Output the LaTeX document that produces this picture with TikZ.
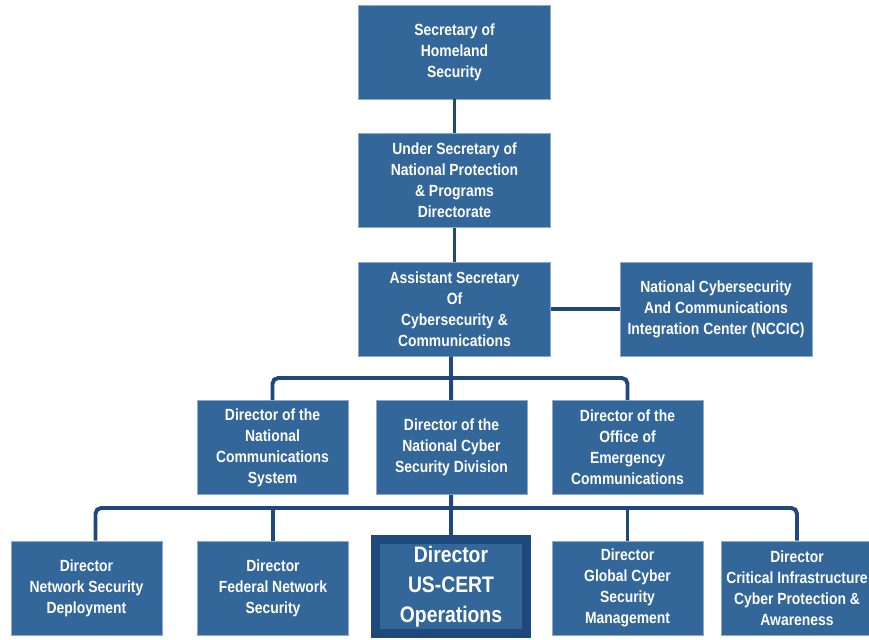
\documentclass[tikz,border=0pt]{standalone}
\usepackage{fontspec}
\setmainfont{Liberation Sans}[FakeStretch=0.86]
\usetikzlibrary{calc,positioning}
\definecolor{boxBlue}{HTML}{336699}
\definecolor{lineNavy}{HTML}{1F497D}
\definecolor{boxEdge}{HTML}{8AAAD0}

\tikzset{
  orgbox/.style={rectangle,fill=boxBlue,draw=boxEdge,line width=.4pt,text=white,
    font=\bfseries\fontsize{11.5}{15}\selectfont,align=center,
    minimum width=3.775cm,minimum height=2.35cm,inner sep=1pt},
  widebox/.style={orgbox,minimum width=4.8cm},
  hotbox/.style={orgbox,draw=lineNavy,line width=6.4pt,
    minimum width=3.775cm,minimum height=2.35cm,
    font=\bfseries\fontsize{16}{21.5}\selectfont},
  link/.style={draw=lineNavy,line width=2.8pt,rounded corners=4pt},
}

\begin{document}
\begin{tikzpicture}[x=0.025cm,y=-0.025cm]
  \useasboundingbox (0,0) rectangle (869,639);

  \node[widebox] (sec)   at (454.5,52)  {Secretary of\\Homeland\\Security};
  \node[widebox] (usec)  at (454.5,180.5) {Under Secretary of\\National Protection\\\& Programs\\Directorate};
  \node[widebox] (asec)  at (454.5,309) {Assistant Secretary\\Of\\Cybersecurity \&\\Communications};
  \node[widebox] (nccic) at (716,309)   {National Cybersecurity\\And Communications\\Integration Center (NCCIC)};

  \node[orgbox] (ncsys) at (272.5,447.5) {Director of the\\National\\Communications\\System};
  \node[orgbox] (ncsd)  at (451.5,447.5) {Director of the\\National Cyber\\Security Division};
  \node[orgbox] (oec)   at (627.5,447.5) {Director of the\\Office of\\Emergency\\Communications};

  \node[orgbox]  (nsd)    at (86.5,588)  {Director\\Network Security\\Deployment};
  \node[orgbox]  (fns)    at (273,588)   {Director\\Federal Network\\Security};
  \node[hotbox]  (uscert) at (451,586.5) {Director\\US-CERT\\Operations};
  \node[orgbox]  (gcsm)   at (627.5,588) {Director\\Global Cyber\\Security\\Management};
  \node[orgbox]  (cip)    at (797,588)   {Director\\Critical Infrastructure\\Cyber Protection \&\\Awareness};

  \coordinate (busA) at (451,378);
  \coordinate (busB) at (451,508);

  \draw[link] (sec) -- (usec);
  \draw[link] (usec) -- (asec);
  \draw[link] (asec) -- (nccic);

  % divisions
  \draw[link] (asec.south -| busA) -- (busA) -- (ncsd);
  \draw[link] (ncsys.north) |- (busA) -| (oec.north);

  % offices under NCSD
  \draw[link] (ncsd) -- (busB) -- (uscert);
  \draw[link] ($(nsd.north)+(9,0)$) |- (busB) -| (cip.north);
  \draw[link] (fns.north) -- (fns.north |- busB);
  \draw[link] (gcsm.north) -- (gcsm.north |- busB);
\end{tikzpicture}
\end{document}
